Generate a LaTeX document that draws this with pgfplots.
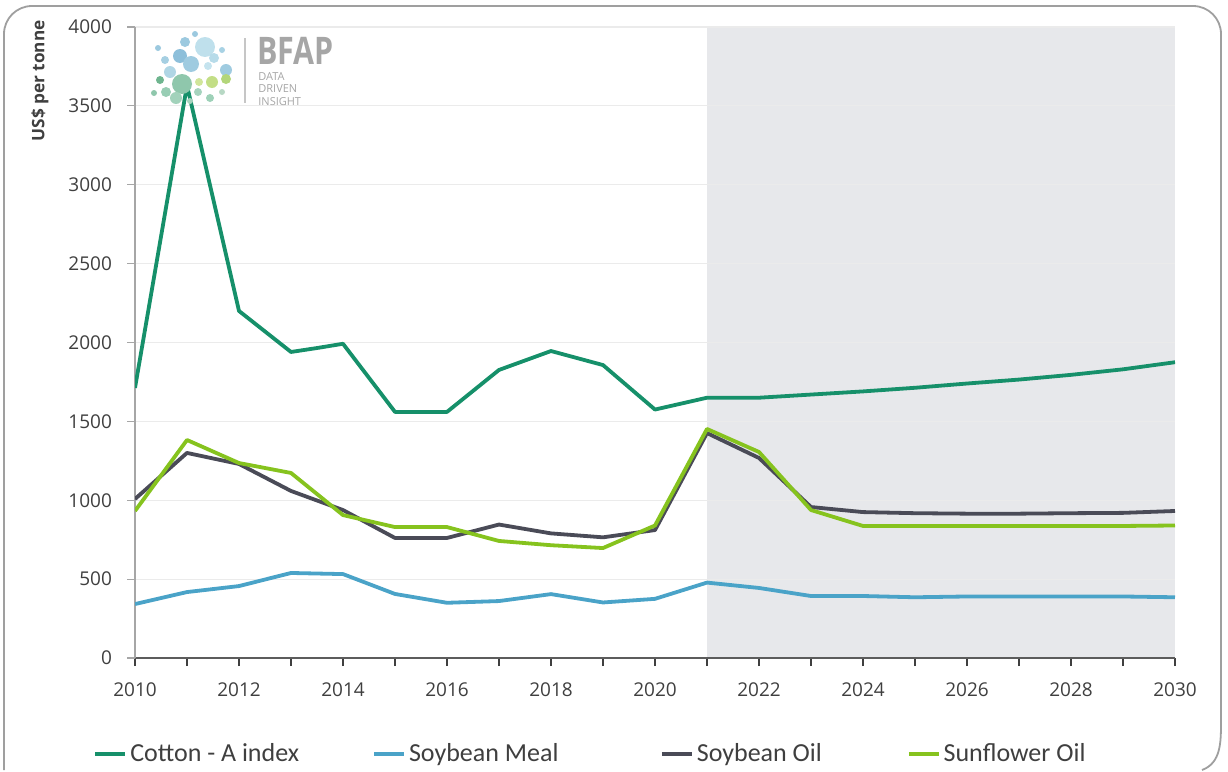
\documentclass[border=0pt]{standalone}
\usepackage{pgfplots}
\pgfplotsset{compat=1.18}
\usepackage{fontspec}
\setmainfont{Open Sans}
\newfontfamily\legfont{Carlito}
\definecolor{cotton}{HTML}{16906A}
\definecolor{smeal}{HTML}{4AA3C8}
\definecolor{soil}{HTML}{4A4B57}
\definecolor{sunf}{HTML}{86C31E}
\definecolor{shadec}{HTML}{E7E8EB}
\definecolor{gridc}{HTML}{EBEBEB}
\definecolor{tickc}{HTML}{3F3F3F}
\begin{document}
\begin{tikzpicture}
\path (0,0) rectangle (614pt,385pt);
\begin{axis}[
  at={(67.5pt,56pt)}, anchor=south west,
  scale only axis, width=520pt, height=315.5pt,
  set layers,
  xmin=2010, xmax=2030, ymin=0, ymax=4000,
  xtick={2010,2012,...,2030},
  minor xtick={2011,2013,...,2029},
  ytick={0,500,...,4000},
  /pgf/number format/assume math mode=true,
  /pgf/number format/1000 sep={},
  ymajorgrids, major grid style={gridc, line width=0.6pt},
  axis x line*=bottom, axis y line*=left,
  x axis line style={draw=tickc!85, line width=0.8pt, -},
  y axis line style={draw=gray!70, line width=0.6pt, -},
  tick align=outside,
  major tick length=4pt, minor tick length=4pt,
  xtick style={draw=tickc, line width=0.7pt},
  minor x tick style={draw=tickc, line width=0.7pt},
  ytick style={draw=gray!70, line width=0.6pt},
  ticklabel style={font=\fontsize{9.5}{11}\selectfont, text=tickc},
  yticklabel style={xshift=-4pt},
  xticklabel style={yshift=-5pt},
  legend columns=4,
  legend style={at={(-0.0461,-0.152)}, anchor=west, draw=none, fill=none,
    font=\legfont\fontsize{13}{14}\selectfont, text=tickc,
    /tikz/every even column/.append style={column sep=0pt},
    nodes={inner sep=1.5pt}},
  legend image code/.code={\draw[#1] (0pt,0pt) -- (15pt,0pt);},
  every axis plot/.append style={line width=1.9pt, line join=round},
]
\begin{pgfonlayer}{axis background}
\fill[fill=shadec] (axis cs:2021,0) rectangle (axis cs:2030,4000);
\end{pgfonlayer}
\addplot[cotton] coordinates {
(2010,1712) (2011,3630) (2012,2200) (2013,1940) (2013.5,1965) (2014,1992) (2015,1560) (2016,1560)
(2017,1826) (2018,1946) (2019,1857) (2020,1575) (2021,1650) (2022,1650) (2023,1670)
(2024,1690) (2025,1713) (2026,1740) (2027,1765) (2028,1795) (2029,1830) (2030,1875)};
\addlegendentry{\makebox[119.5pt][l]{Cotton - A index}}
\addplot[smeal] coordinates {
(2010,342) (2011,418) (2012,456) (2013,539) (2014,532) (2015,406) (2016,350)
(2017,361) (2018,405) (2019,352) (2020,375) (2021,478) (2022,444) (2023,393)
(2024,393) (2025,385) (2026,390) (2027,390) (2028,390) (2029,390) (2030,385)};
\addlegendentry{\makebox[124pt][l]{Soybean Meal}}
\addplot[soil] coordinates {
(2010,1008) (2011,1300) (2012,1230) (2013,1059) (2014,938) (2015,761) (2016,761)
(2017,846) (2018,790) (2019,765) (2020,811) (2021,1426) (2022,1268) (2023,957)
(2024,925) (2025,918) (2026,915) (2027,915) (2028,918) (2029,920) (2030,932)};
\addlegendentry{\makebox[103.5pt][l]{Soybean Oil}}
\addplot[sunf] coordinates {
(2010,932) (2011,1382) (2012,1236) (2013,1173) (2014,906) (2015,830) (2016,830)
(2017,742) (2018,715) (2019,697) (2020,840) (2021,1452) (2022,1306) (2023,938)
(2024,837) (2025,837) (2026,837) (2027,837) (2028,837) (2029,837) (2030,840)};
\addlegendentry{Sunflower Oil}
\end{axis}
% frame
\draw[gray!75, line width=0.9pt, rounded corners=14pt] (2pt,0pt) -- (2pt,382pt) -- (610.5pt,382pt) -- (610.5pt,24pt);
\draw[gray!75, line width=0.9pt] (610.5pt,24.3pt) to[out=-90,in=20] (601pt,0pt);
\begin{scope}[x=0.5pt,y=-0.5pt,yshift=385pt]
  % y label
  \node[rotate=90, anchor=east, inner sep=0pt, font=\bfseries\fontsize{8.6}{10}\selectfont, text=tickc] at (40,20) {US\$ per tonne};
  % logo
  \foreach \x/\y/\r/\c in {185/42/5/9CC9DF, 205/47/10/BFE0EC, 180/56/7/8DBFDA, 165/60/4/A6CFE2, 191/64/8/9FCBE0,
      214/58/5/B7DBE9, 226/70/6/9FCBE0, 170/72/6/B0D6E5, 158/48/3/9CC9DF, 195/34/3/9CC9DF, 222/50/3/A8D2E4, 208/66/4/C5E3EE,
      182/84/10/8FC7AC, 160/80/4/6FB58F, 166/92/5/98CDB4, 212/82/6/C3DE86, 226/79/5/B3D67A, 198/92/4/A6D3BE,
      176/98/6/A2D2BB, 210/98/4/9ED1B8, 222/92/3/B7D8C4, 199/82/4/D0E59A, 154/93/3/8FC7AC, 190/101/3/A6D3BE} {
    \definecolor{tmpc}{HTML}{\c}
    \fill[fill=tmpc] (\x,\y) circle[radius=\r];
  }
  \draw[gray!45, line width=0.8pt] (245,38) -- (245,103);
  \node[anchor=north west, inner sep=0pt, xscale=0.8, text=gray!70, font=\bfseries\fontsize{19}{19}\selectfont] at (257,37) {BFAP};
  \node[anchor=north west, inner sep=0pt, align=left, text=gray!70, font=\fontsize{5.5}{6.3}\selectfont] at (258,72) {DATA\\DRIVEN\\INSIGHT};
\end{scope}
\end{tikzpicture}
\end{document}
